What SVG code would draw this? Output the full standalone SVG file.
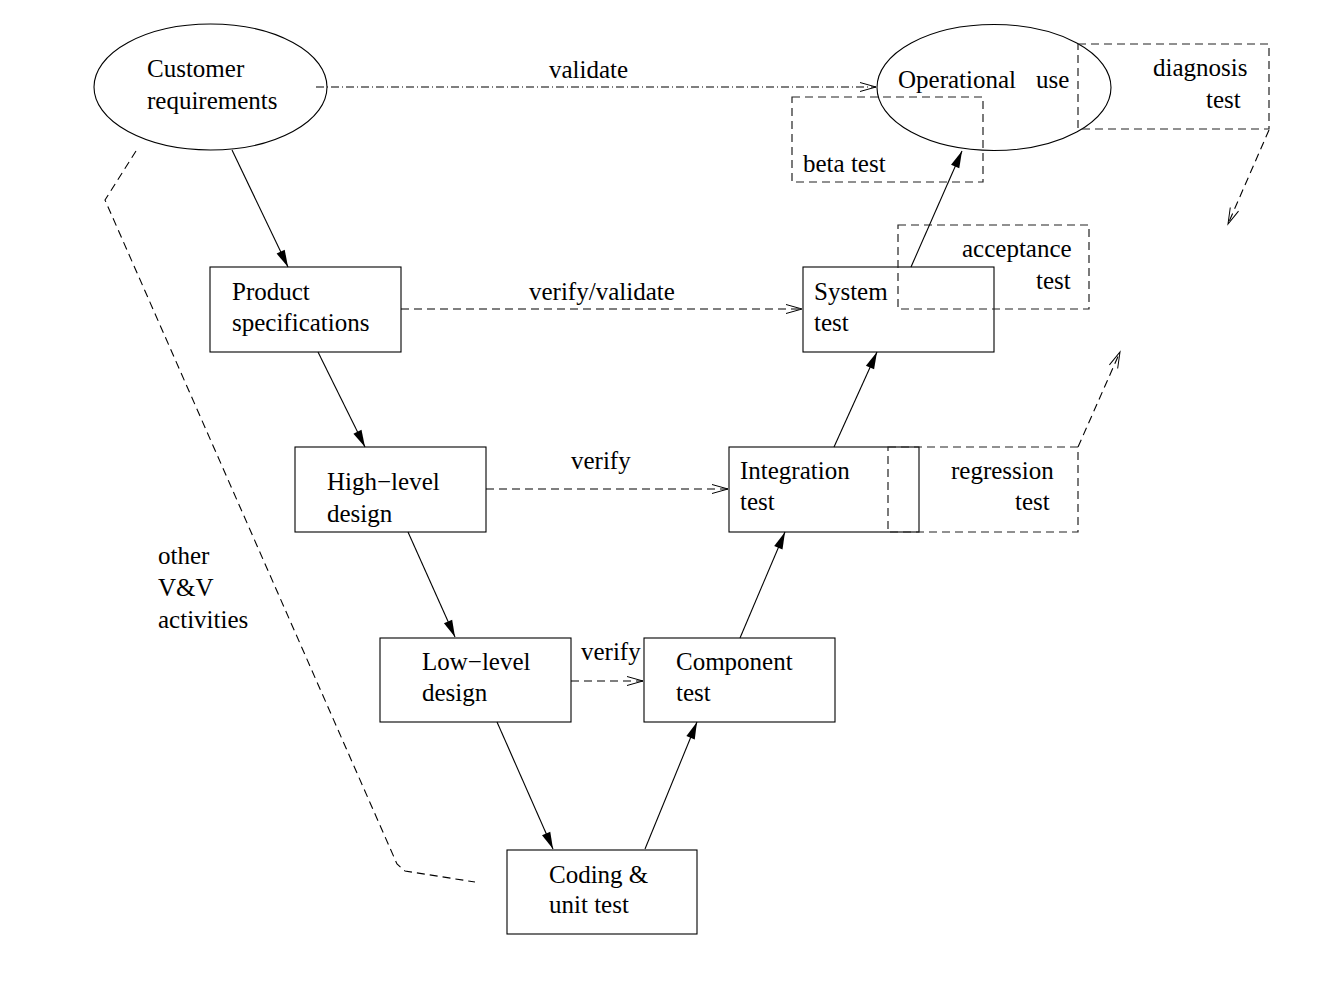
<svg xmlns="http://www.w3.org/2000/svg" width="1326" height="988" viewBox="0 0 1326 988">
<style>
text{font-family:"Liberation Serif","Times New Roman",serif;font-size:25px;fill:#000}
.n{fill:none;stroke:#000;stroke-width:1.1}
.d{fill:none;stroke:#222;stroke-width:1.2;stroke-dasharray:8 5}
.a{fill:none;stroke:#000;stroke-width:1.1}
.da{fill:none;stroke:#000;stroke-width:1.1;stroke-dasharray:8 5}
.dd{fill:none;stroke:#000;stroke-width:1.1;stroke-dasharray:8 3 1 3}
</style>
<defs>
<marker id="f" markerUnits="userSpaceOnUse" markerWidth="18" markerHeight="10" refX="17" refY="4.5" orient="auto" overflow="visible"><path d="M0,0 L17,4.5 L0,9 z" fill="#000"/></marker>
<marker id="o" markerUnits="userSpaceOnUse" markerWidth="18" markerHeight="10" refX="16" refY="4.5" orient="auto" overflow="visible"><path d="M0,0 L16,4.5 L0,9" fill="none" stroke="#000" stroke-width="1"/></marker>
</defs>
<rect width="1326" height="988" fill="#fff"/>

<g id="customer"><ellipse class="n" cx="210.5" cy="87" rx="116.5" ry="63"/><text x="147" y="77">Customer</text><text x="147" y="109">requirements</text></g>
<g id="operational"><ellipse class="n" cx="994" cy="87.5" rx="117" ry="63"/><text x="898" y="88">Operational</text><text x="1036" y="88">use</text></g>
<g id="diagnosis"><rect class="d" x="1078" y="44" width="191" height="85"/><text x="1153" y="76">diagnosis</text><text x="1206" y="108">test</text></g>
<g id="beta"><rect class="d" x="792" y="97" width="191" height="85"/><text x="803" y="172">beta test</text></g>
<g id="product"><rect class="n" x="210" y="267" width="191" height="85"/><text x="232" y="300">Product</text><text x="232" y="331">specifications</text></g>
<g id="system"><rect class="n" x="803" y="267" width="191" height="85"/><text x="814" y="300">System</text><text x="814" y="331">test</text></g>
<g id="acceptance"><rect class="d" x="898" y="225" width="191" height="84"/><text x="962" y="257">acceptance</text><text x="1036" y="289">test</text></g>
<g id="highlevel"><rect class="n" x="295" y="447" width="191" height="85"/><text x="327" y="490">High−level</text><text x="327" y="522">design</text></g>
<g id="integration"><rect class="n" x="729" y="447" width="190" height="85"/><text x="740" y="479">Integration</text><text x="740" y="510">test</text></g>
<g id="regression"><rect class="d" x="888" y="447" width="190" height="85"/><text x="951" y="479">regression</text><text x="1015" y="510">test</text></g>
<g id="lowlevel"><rect class="n" x="380" y="638" width="191" height="84"/><text x="422" y="670">Low−level</text><text x="422" y="701">design</text></g>
<g id="component"><rect class="n" x="644" y="638" width="191" height="84"/><text x="676" y="670">Component</text><text x="676" y="701">test</text></g>
<g id="coding"><rect class="n" x="507" y="850" width="190" height="84"/><text x="549" y="883">Coding &amp;</text><text x="549" y="913">unit test</text></g>
<g id="other"><text x="158" y="564">other</text><text x="158" y="596">V&amp;V</text><text x="158" y="628">activities</text></g>

<g id="connectors">
<path class="a" d="M232,150 L288,267" marker-end="url(#f)"/>
<path class="a" d="M318,352 L365,447" marker-end="url(#f)"/>
<path class="a" d="M408,532 L455,637" marker-end="url(#f)"/>
<path class="a" d="M497,722 L553,849" marker-end="url(#f)"/>
<path class="a" d="M645,849 L697,722" marker-end="url(#f)"/>
<path class="a" d="M740,638 L785,532" marker-end="url(#f)"/>
<path class="a" d="M834,447 L877,352" marker-end="url(#f)"/>
<path class="a" d="M911,267 L962,151" marker-end="url(#f)"/>
<path class="dd" d="M316,87 L876,87" marker-end="url(#o)"/>
<path class="da" d="M401,309 L802,309" marker-end="url(#o)"/>
<path class="da" d="M486,489 L728,489" marker-end="url(#o)"/>
<path class="da" d="M571,681 L643,681" marker-end="url(#o)"/>
<path class="da" d="M1269,130 L1228,224" marker-end="url(#o)"/>
<path class="da" d="M1078,447 L1120,352" marker-end="url(#o)"/>
<path class="da" d="M136,151 L105,200 L397,864 L405,871 L475,882"/>
<text x="549" y="78">validate</text>
<text x="529" y="300">verify/validate</text>
<text x="571" y="469">verify</text>
<text x="581" y="660">verify</text>
</g>
</svg>
